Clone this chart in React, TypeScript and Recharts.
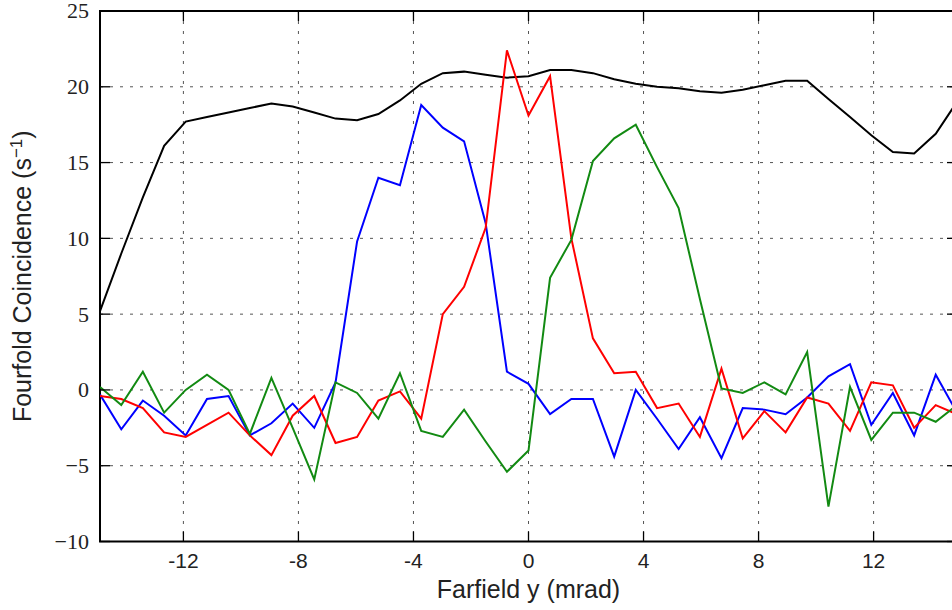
import { LineChart, Line, XAxis, YAxis, CartesianGrid, ReferenceArea } from "recharts";

// farfield positions (mrad)
const farfield = [
  -14.9, -14.16, -13.41, -12.67, -11.92, -11.18, -10.43, -9.69, -8.94, -8.2, -7.45, -6.71, -5.96, -5.22,
  -4.47, -3.73, -2.98, -2.24, -1.49, -0.75, 0, 0.75, 1.49, 2.24, 2.98, 3.73, 4.47, 5.22, 5.96, 6.71, 7.45,
  8.2, 8.94, 9.69, 10.43, 11.18, 11.92, 12.67, 13.41, 14.16, 14.9,
];

const total = [
  5.2, 9.0, 12.7, 16.1, 17.7, 18.0, 18.3, 18.6, 18.9, 18.7, 18.3, 17.9, 17.8, 18.2, 19.1, 20.2, 20.9, 21.0,
  20.8, 20.6, 20.7, 21.1, 21.1, 20.9, 20.5, 20.2, 20.0, 19.9, 19.7, 19.6, 19.8, 20.1, 20.4, 20.4, 19.2, 18.0,
  16.8, 15.7, 15.6, 16.9, 19.0,
];

const blueSeries = [
  -0.3, -2.6, -0.7, -1.7, -3.0, -0.6, -0.4, -3.0, -2.2, -0.9, -2.5, 0.5, 9.8, 14.0, 13.5, 18.8, 17.3, 16.4,
  11.0, 1.2, 0.4, -1.6, -0.6, -0.6, -4.4, 0.0, -1.9, -3.9, -1.8, -4.5, -1.2, -1.3, -1.6, -0.5, 0.9, 1.7,
  -2.3, -0.2, -3.0, 1.0, -1.5,
];

const redSeries = [
  -0.4, -0.6, -1.2, -2.8, -3.1, -2.3, -1.5, -3.0, -4.3, -1.7, -0.4, -3.5, -3.1, -0.7, -0.1, -1.9, 5.0, 6.8,
  10.7, 22.4, 18.1, 20.7, 10.0, 3.4, 1.1, 1.2, -1.2, -0.9, -3.1, 1.4, -3.2, -1.4, -2.8, -0.5, -0.9, -2.7,
  0.5, 0.3, -2.5, -1.0, -1.6,
];

const greenSeries = [
  0.2, -1.0, 1.2, -1.5, 0.0, 1.0, 0.0, -2.9, 0.8, -2.5, -5.9, 0.5, -0.2, -1.9, 1.1, -2.7, -3.1, -1.3,
  -3.4, -5.4, -4.0, 7.4, 9.9, 15.1, 16.6, 17.5, 14.7, 12.0, 6.0, 0.1, -0.2, 0.5, -0.3, 2.5, -7.7, 0.2,
  -3.3, -1.5, -1.5, -2.1, -1.0,
];

const xTicks = [-12, -8, -4, 0, 4, 8, 12];
const yTicks = [-10, -5, 0, 5, 10, 15, 20, 25];

const data = farfield.map((x, i) => ({
  x,
  total: total[i],
  blue: blueSeries[i],
  red: redSeries[i],
  green: greenSeries[i],
}));

const W = 960;
const H = 610;
const M = { top: 11, right: 3, left: 0, bottom: 0 };
const Y_AXIS_W = 100;
const X_AXIS_H = 68.5;
const PLOT_W = W - M.left - M.right - Y_AXIS_W;
const PLOT_H = H - M.top - M.bottom - X_AXIS_H;
const TICK_LEN = 10;
const X_GAP = 12;
const Y_GAP = 11;

const sans = "'Liberation Sans', Arial, Helvetica, sans-serif";
const serif = "'Liberation Serif', 'Times New Roman', serif";

const fmtY = (v: number) => (v < 0 ? `\u2212${Math.abs(v)}` : `${v}`);

function BottomTick(props: any) {
  const { x, y, payload } = props;
  const axisY = y - X_GAP;
  return (
    <g>
      <line x1={x} x2={x} y1={axisY} y2={axisY - TICK_LEN} stroke="#000" strokeWidth={1.3} />
      <line x1={x} x2={x} y1={axisY - PLOT_H} y2={axisY - PLOT_H + TICK_LEN} stroke="#000" strokeWidth={1.3} />
      <text x={x} y={y} dy="0.71em" textAnchor="middle" fontFamily={sans} fontSize={21} fill="#222">
        {payload.value}
      </text>
    </g>
  );
}

function LeftTick(props: any) {
  const { x, y, payload } = props;
  const axisX = x + Y_GAP;
  return (
    <g>
      <line x1={axisX} x2={axisX + TICK_LEN} y1={y} y2={y} stroke="#000" strokeWidth={1.3} />
      <line x1={axisX + PLOT_W} x2={axisX + PLOT_W - TICK_LEN} y1={y} y2={y} stroke="#000" strokeWidth={1.3} />
      <text x={x} y={y} dy="0.34em" textAnchor="end" fontFamily={serif} fontSize={22} fill="#222">
        {fmtY(payload.value)}
      </text>
    </g>
  );
}

function YTitle(props: any) {
  const vb = props.viewBox;
  const cy = vb.y + vb.height / 2;
  return (
    <text
      transform={`translate(22,${cy}) rotate(-90)`}
      textAnchor="middle"
      dy="0.36em"
      fontFamily={sans}
      fontSize={25}
      fill="#222"
    >
      Fourfold Coincidence (s
      <tspan dy={-9} fontSize={17}>
        {"\u22121"}
      </tspan>
      <tspan dy={9}>)</tspan>
    </text>
  );
}

export default function App() {
  return (
    <div style={{ position: "fixed", left: 0, top: 0, width: 952, height: 610, overflow: "hidden", background: "#fff" }}>
      <LineChart width={W} height={H} data={data} margin={M}>
        <CartesianGrid stroke="#555" strokeDasharray="3 7" strokeWidth={1} />
        <XAxis
          dataKey="x"
          type="number"
          domain={[-14.9, 14.9]}
          ticks={xTicks}
          allowDataOverflow
          height={X_AXIS_H}
          axisLine={false}
          tickLine={false}
          tickSize={0}
          tickMargin={X_GAP}
          tick={<BottomTick />}
          label={{
            value: "Farfield y (mrad)",
            position: "insideBottom",
            offset: 12,
            style: { fontFamily: sans, fontSize: 25, fill: "#222" },
          }}
        />
        <YAxis
          type="number"
          domain={[-10, 25]}
          ticks={yTicks}
          allowDataOverflow
          width={Y_AXIS_W}
          axisLine={false}
          tickLine={false}
          tickSize={0}
          tickMargin={Y_GAP}
          tick={<LeftTick />}
          label={<YTitle />}
        />
        <Line type="linear" dataKey="total" stroke="#000000" strokeWidth={2} dot={false} isAnimationActive={false} />
        <Line type="linear" dataKey="blue" stroke="#0000ff" strokeWidth={2} dot={false} isAnimationActive={false} />
        <Line type="linear" dataKey="red" stroke="#ff0000" strokeWidth={2} dot={false} isAnimationActive={false} />
        <Line type="linear" dataKey="green" stroke="#128a12" strokeWidth={2} dot={false} isAnimationActive={false} />
        <ReferenceArea x1={-14.9} x2={14.9} y1={-10} y2={25} fill="none" fillOpacity={0} stroke="#000" strokeWidth={2} />
      </LineChart>
    </div>
  );
}
